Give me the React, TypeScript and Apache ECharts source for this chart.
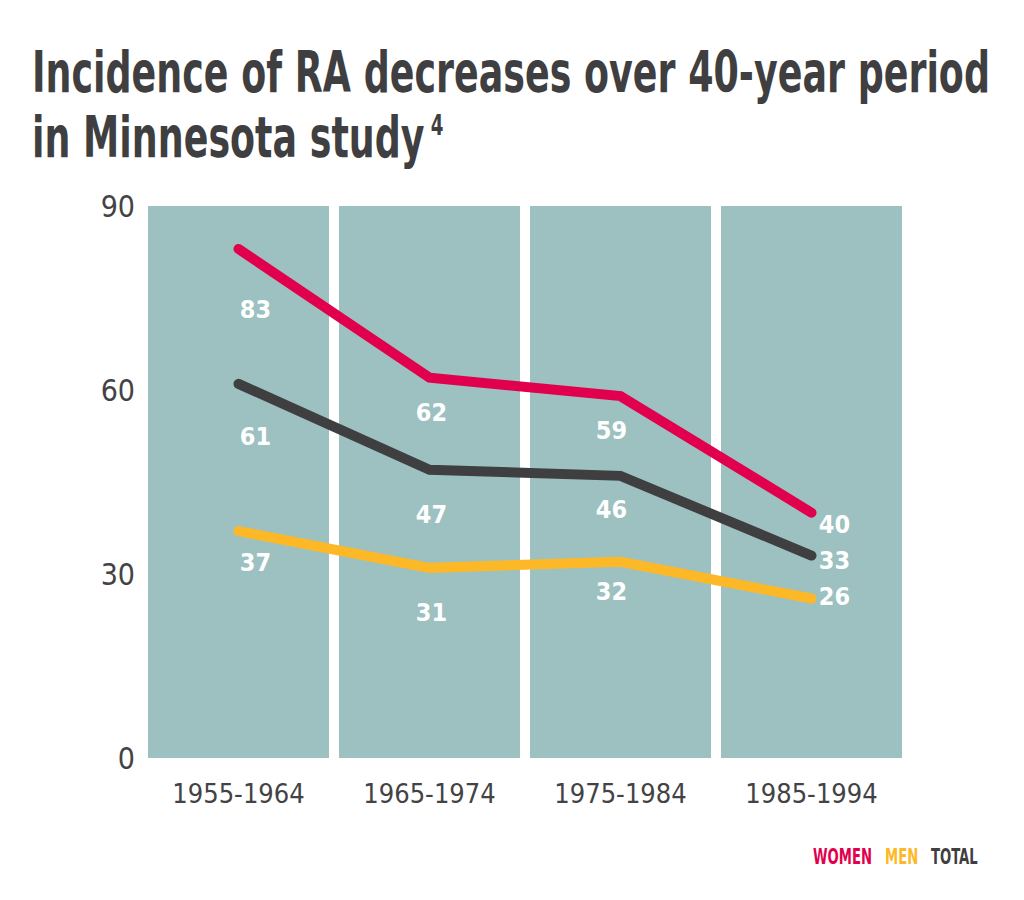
import React, { useEffect, useRef } from "react";
import * as echarts from "echarts";

const categories = ["1955-1964", "1965-1974", "1975-1984", "1985-1994"];
const women = [83, 62, 59, 40];
const men = [37, 31, 32, 26];
const total = [61, 47, 46, 33];
const yMin = 0;
const yMax = 90;
const yInterval = 30;
const legendNames = ["WOMEN", "MEN", "TOTAL"];
const titleLines = ["Incidence of RA decreases over 40-year period", "in Minnesota study"];
const footnote = "4";

const FONT = '"Liberation Sans Narrow", "Arial Narrow", "DejaVu Sans Condensed", sans-serif';
const C_TEAL = "#9cc1c0";
const C_RED = "#e1004d";
const C_YEL = "#fdb827";
const C_DARK = "#3f3f41";
const C_TEXT = "#434345";

// label offsets (style only)
const womenOff = [[17, 61], [2, 35], [-9, 34], [23, 12]];
const totalOff = [[17, 53], [2, 45], [-9, 34], [23, 5]];
const menOff = [[17, 31], [2, 45], [-9, 30], [23, -2]];

function measure(text: string, font: string) {
  const ctx = document.createElement("canvas").getContext("2d")!;
  ctx.font = font;
  return ctx.measureText(text).width;
}

export default function App() {
  const ref = useRef<HTMLDivElement>(null);
  useEffect(() => {
    if (!ref.current) return;
    const chart = echarts.init(ref.current, undefined, { renderer: "svg" });

    const titleFont = "bold 56px " + FONT;
    const tScale = 958 / measure(titleLines[0], titleFont);
    const line2W = measure(titleLines[1], titleFont) * tScale;

    const legFont = "bold 22px " + FONT;
    const legScale = 59 / measure(legendNames[0], legFont);
    const legX = [813, 885, 931];
    const legColors = [C_RED, C_YEL, C_DARK];

    const mkLine = (name: string, vals: number[], offs: number[][], color: string) => ({
      name,
      type: "line",
      data: vals.map((v, i) => ({ value: v, label: { offset: offs[i] } })),
      symbol: "circle",
      symbolSize: 1,
      itemStyle: { color },
      lineStyle: { color, width: 10, cap: "round", join: "miter" },
      z: 5,
      label: {
        show: true,
        position: "inside",
        color: "#ffffff",
        fontFamily: FONT,
        fontWeight: "bold",
        fontSize: 25,
      },
    });

    chart.setOption({
      animation: false,
      grid: { left: 143, right: 117, top: 206, bottom: 142 },
      xAxis: {
        type: "category",
        data: categories,
        axisLine: { show: false },
        axisTick: { show: false },
        splitLine: { show: false },
        axisLabel: { interval: 0, fontFamily: FONT, fontSize: 27, color: C_TEXT, margin: 22 },
      },
      yAxis: {
        type: "value",
        min: yMin,
        max: yMax,
        interval: yInterval,
        axisLine: { show: false },
        axisTick: { show: false },
        splitLine: { show: false },
        axisLabel: { fontFamily: FONT, fontSize: 30, color: C_TEXT, margin: 8 },
      },
      series: [
        {
          type: "bar",
          data: categories.map(() => yMax),
          barWidth: 181,
          itemStyle: { color: C_TEAL },
          silent: true,
          z: 1,
        },
        mkLine("WOMEN", women, womenOff, C_RED),
        mkLine("TOTAL", total, totalOff, C_DARK),
        mkLine("MEN", men, menOff, C_YEL),
      ],
      graphic: [
        {
          type: "text",
          x: 32,
          y: 73,
          scaleX: tScale,
          style: { text: titleLines[0], font: titleFont, fill: C_DARK, align: "left", verticalAlign: "middle" },
        },
        {
          type: "text",
          x: 32,
          y: 138,
          scaleX: tScale,
          style: { text: titleLines[1], font: titleFont, fill: C_DARK, align: "left", verticalAlign: "middle" },
        },
        {
          type: "text",
          x: 32 + line2W + 6,
          y: 125,
          scaleX: tScale,
          style: { text: footnote, font: "bold 28px " + FONT, fill: C_DARK, align: "left", verticalAlign: "middle" },
        },
        ...legendNames.map((n, i) => ({
          type: "text",
          x: legX[i],
          y: 856,
          scaleX: legScale,
          style: { text: n, font: legFont, fill: legColors[i], align: "left", verticalAlign: "middle" },
        })),
      ],
    });
    return () => chart.dispose();
  }, []);
  return (
    <div
      ref={ref}
      style={{ position: "absolute", left: 0, top: 0, width: 1024, height: 900, background: "#ffffff" }}
    />
  );
}
